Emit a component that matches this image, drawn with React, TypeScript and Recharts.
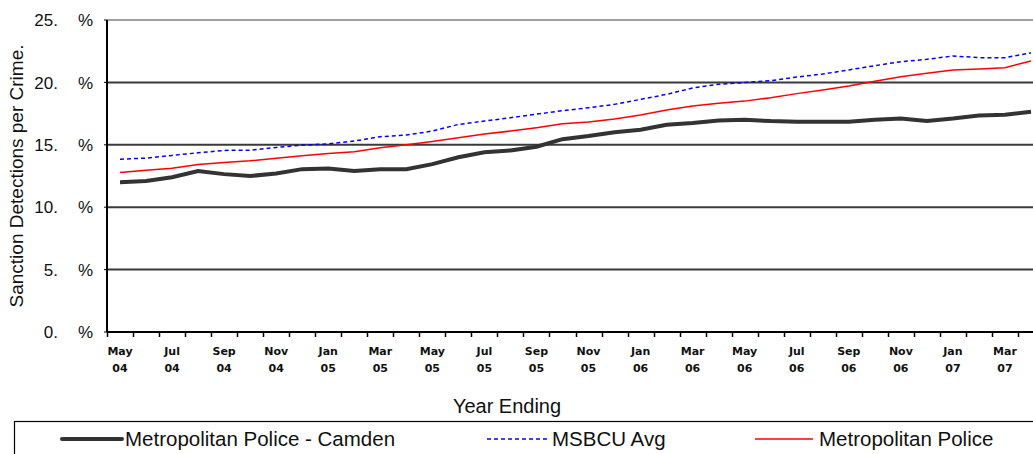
import React from "react";
import {
  LineChart,
  Line,
  XAxis,
  YAxis,
  CartesianGrid,
  ReferenceLine,
} from "recharts";

const MONTHS = [
  "May 04", "Jun 04", "Jul 04", "Aug 04", "Sep 04", "Oct 04", "Nov 04", "Dec 04",
  "Jan 05", "Feb 05", "Mar 05", "Apr 05", "May 05", "Jun 05", "Jul 05", "Aug 05",
  "Sep 05", "Oct 05", "Nov 05", "Dec 05", "Jan 06", "Feb 06", "Mar 06", "Apr 06",
  "May 06", "Jun 06", "Jul 06", "Aug 06", "Sep 06", "Oct 06", "Nov 06", "Dec 06",
  "Jan 07", "Feb 07", "Mar 07", "Apr 07",
];

const CAMDEN = [
  12.0, 12.1, 12.4, 12.9, 12.65, 12.5, 12.7, 13.05, 13.1, 12.9, 13.05, 13.05,
  13.45, 14.0, 14.4, 14.55, 14.85, 15.45, 15.7, 16.0, 16.2, 16.6, 16.75, 16.95,
  17.0, 16.9, 16.85, 16.85, 16.85, 17.0, 17.1, 16.9, 17.1, 17.35, 17.4, 17.65,
];

const MSBCU = [
  13.85, 13.93, 14.15, 14.36, 14.55, 14.57, 14.79, 14.97, 15.07, 15.3, 15.65, 15.78,
  16.1, 16.63, 16.9, 17.17, 17.46, 17.73, 17.97, 18.24, 18.64, 19.04, 19.55, 19.85,
  20.0, 20.14, 20.43, 20.67, 21.0, 21.34, 21.66, 21.85, 22.12, 21.98, 21.98, 22.36,
];

const MET_POLICE = [
  12.78, 12.97, 13.13, 13.42, 13.59, 13.72, 13.93, 14.12, 14.3, 14.44, 14.76, 15.0,
  15.27, 15.56, 15.86, 16.1, 16.37, 16.68, 16.82, 17.06, 17.38, 17.78, 18.1, 18.32,
  18.5, 18.77, 19.1, 19.39, 19.71, 20.09, 20.46, 20.73, 21.0, 21.08, 21.18, 21.72,
];

const Y_TICKS = [0, 5, 10, 15, 20, 25];

const SERIES = [
  { key: "camden", name: "Metropolitan Police - Camden" },
  { key: "msbcu", name: "MSBCU Avg" },
  { key: "met", name: "Metropolitan Police" },
];

const data = MONTHS.map((m, i) => ({
  month: m,
  camden: CAMDEN[i],
  msbcu: MSBCU[i],
  met: MET_POLICE[i],
}));

// layout
const CHART_W = 1050;
const CHART_H = 454;
const Y_AXIS_W = 107;
const X_AXIS_H = 122;
const MARGIN = { top: 20, right: 6, bottom: 0, left: 0 };
const PLOT_BOTTOM = CHART_H - MARGIN.bottom - X_AXIS_H;
const BAND = (CHART_W - Y_AXIS_W - MARGIN.right - MARGIN.left) / MONTHS.length;

const FONT = "'Liberation Sans', Arial, sans-serif";

function MonthTick({ x, payload, index }: any) {
  const [mon, yr] = String(payload.value).split(" ");
  const bx = Math.round(x - BAND / 2) + 0.5;
  return (
    <g>
      <line x1={bx} x2={bx} y1={PLOT_BOTTOM} y2={PLOT_BOTTOM + 5} stroke="#000" strokeWidth={1.5} />
      {index % 2 === 0 && (
        <text
          x={x}
          textAnchor="middle"
          fontFamily="'DejaVu Sans', sans-serif"
          fontWeight="bold"
          fontSize={11}
          fill="#111"
        >
          <tspan x={x} y={PLOT_BOTTOM + 23}>{mon}</tspan>
          <tspan x={x} y={PLOT_BOTTOM + 40}>{yr}</tspan>
        </text>
      )}
    </g>
  );
}

function PctTick({ x, y, payload }: any) {
  return (
    <g fontFamily={FONT} fontSize={17} fill="#111">
      <text x={x - 44} y={y} dy="0.36em" textAnchor="end">{payload.value}.</text>
      <text x={x - 24} y={y} dy="0.36em">%</text>
    </g>
  );
}

function Legend() {
  return (
    <svg
      width={1033}
      height={40}
      style={{ position: "absolute", left: 0, top: 414 }}
    >
      <rect x={14.5} y={7.5} width={1100} height={60} fill="none" stroke="#000" strokeWidth={1.2} />
      <g fontFamily={FONT} fontSize={20.5} fill="#111">
        <line x1={62} x2={122} y1={25} y2={25} stroke="#333" strokeWidth={4} strokeLinecap="round" />
        <text x={125} y={32}>{SERIES[0].name}</text>
        <line x1={487} x2={548} y1={25} y2={25} stroke="#0000ff" strokeWidth={1.3} strokeDasharray="4 3" />
        <text x={552} y={32}>{SERIES[1].name}</text>
        <line x1={755} x2={813} y1={25} y2={25} stroke="#ff0000" strokeWidth={1.5} />
        <text x={819} y={32}>{SERIES[2].name}</text>
      </g>
    </svg>
  );
}

export default function App() {
  return (
    <div
      style={{
        position: "fixed",
        left: 0,
        top: 0,
        width: 1033,
        height: 454,
        overflow: "hidden",
        background: "#fff",
      }}
    >
      <LineChart width={CHART_W} height={CHART_H} data={data} margin={MARGIN}>
        <CartesianGrid vertical={false} stroke="#3a3a3a" strokeWidth={2} />
        <ReferenceLine y={25} stroke="#a0a0a0" strokeWidth={2} />
        <XAxis
          dataKey="month"
          scale="band"
          interval={0}
          height={X_AXIS_H}
          tickLine={false}
          axisLine={{ stroke: "#000", strokeWidth: 2 }}
          tick={<MonthTick />}
          label={{
            content: () => (
              <text x={507} y={413} textAnchor="middle" fontFamily={FONT} fontSize={20} fill="#111">
                Year Ending
              </text>
            ),
          }}
        />
        <YAxis
          width={Y_AXIS_W}
          domain={[0, 25]}
          ticks={Y_TICKS}
          interval={0}
          tickSize={3}
          tickMargin={2}
          tickLine={{ stroke: "#000" }}
          axisLine={{ stroke: "#000", strokeWidth: 2 }}
          tick={<PctTick />}
          label={{
            content: ({ viewBox }: any) => {
              const cy = viewBox.y + viewBox.height / 2;
              return (
                <text
                  x={16}
                  y={cy}
                  dy="0.35em"
                  transform={`rotate(-90 16 ${cy})`}
                  textAnchor="middle"
                  fontFamily={FONT}
                  fontSize={19}
                  fill="#111"
                >
                  Sanction Detections per Crime.
                </text>
              );
            },
          }}
        />
        <Line
          dataKey="camden"
          name={SERIES[0].name}
          type="linear"
          stroke="#333333"
          strokeWidth={4}
          dot={false}
          isAnimationActive={false}
        />
        <Line
          dataKey="msbcu"
          name={SERIES[1].name}
          type="linear"
          stroke="#0000ff"
          strokeWidth={1.5}
          strokeDasharray="4 3"
          dot={false}
          isAnimationActive={false}
        />
        <Line
          dataKey="met"
          name={SERIES[2].name}
          type="linear"
          stroke="#ff0000"
          strokeWidth={1.5}
          dot={false}
          isAnimationActive={false}
        />
      </LineChart>
      <Legend />
    </div>
  );
}
